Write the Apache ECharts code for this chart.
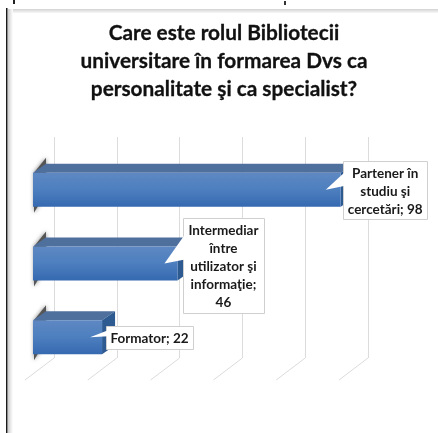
<!DOCTYPE html>
<html>
<head>
<meta charset="utf-8">
<style>
  html, body { margin: 0; padding: 0; background: #fff; }
  #chart { width: 438px; height: 433px; }
</style>
<script src="https://cdn.jsdelivr.net/npm/echarts@6/dist/echarts.min.js"></script>
</head>
<body>
<div id="chart"></div>
<script>
// valori
const categories = ["Formator", "Intermediar între utilizator şi informaţie", "Partener în studiu şi cercetări"];
const values = [22, 46, 98];
const labelTexts = ["Formator; 22", "Intermediar\nîntre\nutilizator şi\ninformaţie;\n46", "Partener în\nstudiu şi\ncercetări; 98"];
const titleText = "Care este rolul Bibliotecii\nuniversitare în formarea Dvs ca\npersonalitate şi ca specialist?";

// geometria 3D (pixeli)
const wallDx = 21, wallDy = 16;   // planul barei fata de peretele din spate
const floorDx = 29, floorDy = 22; // podeaua
const barH = 34, topDx = 13, topDy = 9;
// latime, inaltime, dx cutie, dx varf, dy cutie, baza varfului sus/jos
const boxSizes = [
  { w: 87, h: 23, dx: 4, tip: -12, dy: 0, base: [-7, -1] },
  { w: 81, h: 95, dx: 5.5, tip: -13, dy: 2, base: [-29, -4] },
  { w: 84, h: 58, dx: 2.5, tip: -15, dy: 0, base: [-18, -4] },
];

const chart = echarts.init(document.getElementById("chart"));

function renderBar(params, api) {
  const end = api.coord([api.value(0), api.value(1)]);
  const start = api.coord([0, api.value(1)]);
  const x0 = start[0] - wallDx;
  const x1 = end[0] - wallDx;
  const y0 = end[1] + wallDy - barH / 2;
  const y1 = y0 + barH;
  return {
    type: "group",
    children: [
      {
        // umbra din stanga
        type: "polygon",
        shape: { points: [[x0 + 1, y0], [x0 + topDx, y0 - topDy - 6], [x0 + topDx, y1 - 14], [x0 + 1, y1 + 6]] },
        style: { fill: "#555", shadowBlur: 4, shadowColor: "rgba(0,0,0,0.5)" },
      },
      {
        type: "polygon",
        shape: { points: [[x0, y0], [x0 + topDx, y0 - topDy], [x1 + topDx, y0 - topDy], [x1, y0]] },
        style: { fill: "#4f6f9d" },
      },
      {
        type: "polygon",
        shape: { points: [[x1, y0], [x1 + topDx, y0 - topDy], [x1 + topDx, y1 - topDy], [x1, y1]] },
        style: { fill: "#2c5a91" },
      },
      {
        type: "rect",
        shape: { x: x0, y: y0, width: x1 - x0, height: barH },
        style: {
          fill: new echarts.graphic.LinearGradient(0, 0, 0, 1, [
            { offset: 0, color: "#5e88c2" },
            { offset: 0.5, color: "#4d7fbf" },
            { offset: 1, color: "#3569b0" },
          ]),
        },
      },
    ],
  };
}

function renderCallout(params, api) {
  const i = api.value(2);
  const end = api.coord([api.value(0), api.value(1)]);
  const box = boxSizes[i];
  const barEnd = end[0] - wallDx;
  const cy = end[1] + wallDy;
  const left = barEnd + box.dx;
  const top = cy + box.dy - box.h / 2;
  return {
    type: "group",
    children: [
      {
        type: "rect",
        shape: { x: Math.round(left) + 0.5, y: Math.round(top) + 0.5, width: box.w, height: box.h },
        style: { fill: "#fff", stroke: "#cfcfcf", lineWidth: 1 },
      },
      {
        // varful etichetei
        type: "polygon",
        shape: { points: [[left + 2, cy + box.base[0]], [barEnd + box.tip, cy], [left + 2, cy + box.base[1]]] },
        style: { fill: "#fff" },
      },
      {
        type: "text",
        style: {
          x: left + box.w / 2,
          y: cy + box.dy + 1.5,
          text: labelTexts[i],
          align: "center",
          verticalAlign: "middle",
          fontFamily: "Lato",
          fontWeight: "bold",
          fontSize: 13.5,
          lineHeight: 18,
          fill: "#1a1a1a",
        },
      },
    ],
  };
}

// liniile de podea pornesc din baza peretelui
function renderFloor(params, api) {
  const p = api.coord([api.value(0), 0]);
  const base = params.coordSys.y + params.coordSys.height;
  return {
    type: "line",
    shape: { x1: p[0], y1: base, x2: p[0] - floorDx, y2: base + floorDy },
    style: { stroke: "#dcdcdc", lineWidth: 1 },
  };
}

const ticks = [0, 20, 40, 60, 80, 100];

const shadeH = new echarts.graphic.LinearGradient(0, 0, 1, 0, [
  { offset: 0, color: "#cfcfcf" },
  { offset: 1, color: "#ffffff" },
]);
const shadeV = new echarts.graphic.LinearGradient(0, 0, 0, 1, [
  { offset: 0, color: "#d2d2d2" },
  { offset: 1, color: "#f8f8f8" },
]);

chart.setOption({
  animation: false,
  backgroundColor: "#fff",
  title: {
    text: titleText,
    left: 219,
    top: 14,
    textAlign: "center",
    textStyle: {
      fontFamily: "Lato",
      fontWeight: "bold",
      fontSize: 20.8,
      lineHeight: 28,
      color: "#111",
      textBorderColor: "#111",
      textBorderWidth: 0.3,
    },
  },
  grid: { left: 54, top: 137, width: 314, height: 221 },
  xAxis: {
    type: "value",
    min: 0,
    max: 100,
    interval: 20,
    axisLabel: { show: false },
    axisTick: { show: false },
    axisLine: { show: false },
    splitLine: { show: true, lineStyle: { color: "#dcdcdc", width: 1 } },
  },
  yAxis: {
    type: "category",
    data: categories,
    axisLabel: { show: false },
    axisTick: { show: false },
    axisLine: { show: false },
  },
  series: [
    {
      type: "custom",
      renderItem: renderFloor,
      data: ticks.map((t) => [t]),
      encode: { x: 0 },
      silent: true,
      z: 1,
    },
    {
      type: "custom",
      renderItem: renderBar,
      data: values.map((v, i) => [v, categories[i], i]),
      encode: { x: 0, y: 1 },
      z: 2,
    },
    {
      type: "custom",
      renderItem: renderCallout,
      data: values.map((v, i) => [v, categories[i], i]),
      encode: { x: 0, y: 1 },
      z: 3,
    },
  ],
  graphic: [
    // chenarul capturii
    { type: "rect", shape: { x: 8, y: 9, width: 430, height: 4 }, style: { fill: shadeV }, z: 0 },
    { type: "rect", shape: { x: 8, y: 9, width: 5, height: 424 }, style: { fill: shadeH }, z: 0 },
    { type: "rect", shape: { x: 6, y: 8, width: 1.5, height: 425 }, style: { fill: "#1a1a1a" }, z: 5 },
    // resturi de text taiate sus
    { type: "rect", shape: { x: 13, y: 0, width: 2, height: 4 }, style: { fill: "#222" }, z: 5 },
    { type: "rect", shape: { x: 284, y: 1, width: 2, height: 4 }, style: { fill: "#333" }, z: 5 },
  ],
});
</script>
</body>
</html>
